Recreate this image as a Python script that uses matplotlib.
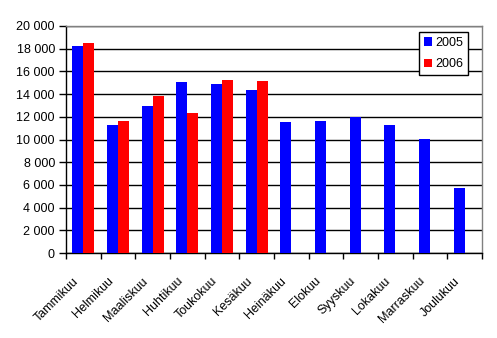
import numpy as np
import matplotlib
import matplotlib.pyplot as plt
from matplotlib.transforms import ScaledTranslation

plt.rcParams['font.family'] = ['Liberation Sans', 'DejaVu Sans']

# Chart data
months = ['Tammikuu', 'Helmikuu', 'Maaliskuu', 'Huhtikuu', 'Toukokuu', 'Kesäkuu',
          'Heinäkuu', 'Elokuu', 'Syyskuu', 'Lokakuu', 'Marraskuu', 'Joulukuu']
values_2005 = [18250, 11300, 12950, 15070, 14890, 14360,
               11550, 11650, 11950, 11300, 10050, 5750]
values_2006 = [18500, 11650, 13850, 12350, 15250, 15170]
yticks = [0, 2000, 4000, 6000, 8000, 10000, 12000, 14000, 16000, 18000, 20000]

fig = plt.figure(figsize=(4.97, 3.38), dpi=100)
ax = fig.add_axes([66 / 497, 85 / 338, 416 / 497, 227 / 338])

x = np.arange(len(months))
w = 0.32
ax.bar(x - w / 2, values_2005, width=w, color='#0000FF', label='2005', zorder=3)
ax.bar(x[:len(values_2006)] + w / 2, values_2006, width=w, color='#FF0000', label='2006', zorder=3)

ax.set_xlim(-0.5, len(months) - 0.5)
ax.set_ylim(0, 20000)
ax.set_yticks(yticks)
ax.set_yticklabels([f'{v:,}'.replace(',', ' ') for v in yticks], fontsize=9)
ax.yaxis.grid(True, color='black', linewidth=1, zorder=0)
ax.set_axisbelow(True)

# ticks between categories
ax.set_xticks(np.arange(len(months) + 1) - 0.5)
ax.set_xticklabels([])
ax.set_xticks(x, minor=True)
ax.set_xticklabels(months, minor=True, rotation=45, ha='right', va='top',
                   rotation_mode='anchor', fontsize=9)
ax.tick_params(axis='x', which='minor', length=0, pad=8)
ax.tick_params(axis='x', which='major', length=4, width=1, color='black')
ax.tick_params(axis='y', length=5, width=1, color='black', pad=3)

shift = ScaledTranslation(-11 / 100, -11 / 100, fig.dpi_scale_trans)
for lab in ax.get_xticklabels(minor=True):
    lab.set_transform(lab.get_transform() + shift)

for s in ['top', 'right']:
    ax.spines[s].set_color('#808080')
    ax.spines[s].set_linewidth(1)
for s in ['left', 'bottom']:
    ax.spines[s].set_color('black')
    ax.spines[s].set_linewidth(1)

leg = ax.legend(loc='upper right', bbox_to_anchor=(0.966, 0.974), borderaxespad=0,
                fontsize=9, frameon=True, fancybox=False, framealpha=1,
                handlelength=0.65, handleheight=0.65, handletextpad=0.25,
                borderpad=0.4, labelspacing=0.75)
leg.get_frame().set_edgecolor('black')
leg.get_frame().set_linewidth(1)

fig.savefig('out.png', dpi=100)
